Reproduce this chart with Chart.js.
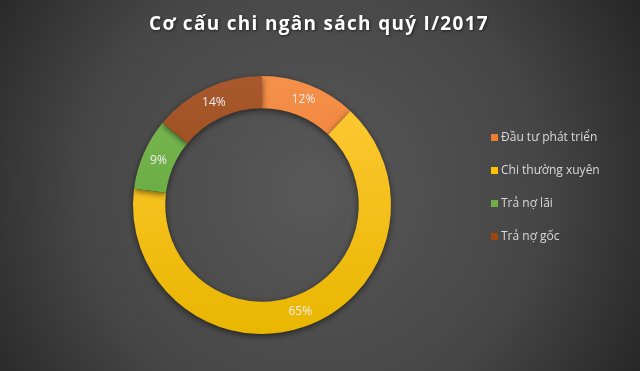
<!DOCTYPE html>
<html>
<head>
<meta charset="utf-8">
<script src="https://cdn.jsdelivr.net/npm/chart.js@4"></script>
<style>
  html, body { margin: 0; padding: 0; background: #333; }
  #wrap { width: 640px; height: 371px; }
</style>
</head>
<body>
<div id="wrap"><canvas id="chart" width="640" height="371"></canvas></div>
<script>
// Chart data
const TITLE = 'Cơ cấu chi ngân sách quý I/2017';
const categories = ['Đầu tư phát triển', 'Chi thường xuyên', 'Trả nợ lãi', 'Trả nợ gốc'];
const shares = [12, 65, 9, 14];

// Segment colours: [top, bottom] of a vertical gradient
const COLORS = [
  ['#f5904a', '#e8701f'],  // orange
  ['#ffca38', '#e9b600'],  // yellow
  ['#7cbb55', '#5b9c32'],  // green
  ['#a85a2e', '#8c3a06'],  // brown
];
const LEGEND_COLORS = ['#ed7d31', '#ffc000', '#70ad47', '#9e480e'];

function segmentFill(context) {
  const chart = context.chart;
  const area = chart.chartArea;
  const pair = COLORS[context.dataIndex];
  if (!area) return pair[0];
  const g = chart.ctx.createLinearGradient(0, area.top, 0, area.bottom);
  g.addColorStop(0, pair[0]);
  g.addColorStop(1, pair[1]);
  return g;
}

// Background, title, shadow, labels and legend
const decorPlugin = {
  id: 'decor',
  beforeDraw(chart) {
    const { ctx, width, height } = chart;
    ctx.save();
    const bg = ctx.createRadialGradient(310, 190, 20, 310, 190, 400);
    bg.addColorStop(0, '#575757');
    bg.addColorStop(0.55, '#464646');
    bg.addColorStop(1, '#222222');
    ctx.fillStyle = bg;
    ctx.fillRect(0, 0, width, height);

    // title
    ctx.font = 'bold 19px "Open Sans", "DejaVu Sans", sans-serif';
    ctx.letterSpacing = '1.3px';
    ctx.fillStyle = '#ffffff';
    ctx.textAlign = 'center';
    ctx.textBaseline = 'middle';
    ctx.shadowColor = 'rgba(0,0,0,0.6)';
    ctx.shadowBlur = 3;
    ctx.shadowOffsetX = 1;
    ctx.shadowOffsetY = 1;
    ctx.fillText(TITLE, 319, 25);
    ctx.restore();
  },
  beforeDatasetsDraw(chart) {
    const ctx = chart.ctx;
    ctx.save();
    ctx.shadowColor = 'rgba(0,0,0,0.55)';
    ctx.shadowBlur = 6;
    ctx.shadowOffsetX = 0;
    ctx.shadowOffsetY = 2;
  },
  afterDatasetsDraw(chart) {
    const ctx = chart.ctx;
    ctx.restore();
    ctx.save();
    const meta = chart.getDatasetMeta(0);
    ctx.font = '12px "Open Sans", sans-serif';
    ctx.fillStyle = '#eeeeee';
    ctx.textAlign = 'center';
    ctx.textBaseline = 'middle';
    meta.data.forEach((arc, i) => {
      const p = arc.tooltipPosition();
      ctx.fillText(shares[i] + '%', p.x, p.y);
    });

    // legend on the right
    ctx.font = '12px "Open Sans", sans-serif';
    ctx.textAlign = 'left';
    categories.forEach((name, i) => {
      const y = 138 + i * 33;
      ctx.fillStyle = LEGEND_COLORS[i];
      ctx.fillRect(491, y - 4, 7, 7);
      ctx.fillStyle = '#d9d9d9';
      ctx.fillText(name, 501, y);
    });
    ctx.restore();
  },
};

new Chart(document.getElementById('chart'), {
  type: 'doughnut',
  data: {
    labels: categories,
    datasets: [{
      data: shares,
      backgroundColor: segmentFill,
      borderWidth: 0,
    }],
  },
  options: {
    responsive: false,
    animation: false,
    cutout: '75%',
    layout: {
      padding: { left: 133, right: 249, top: 76, bottom: 37 },
    },
    plugins: {
      legend: { display: false },
      title: { display: false },
      tooltip: { enabled: false },
    },
  },
  plugins: [decorPlugin],
});
</script>
</body>
</html>
